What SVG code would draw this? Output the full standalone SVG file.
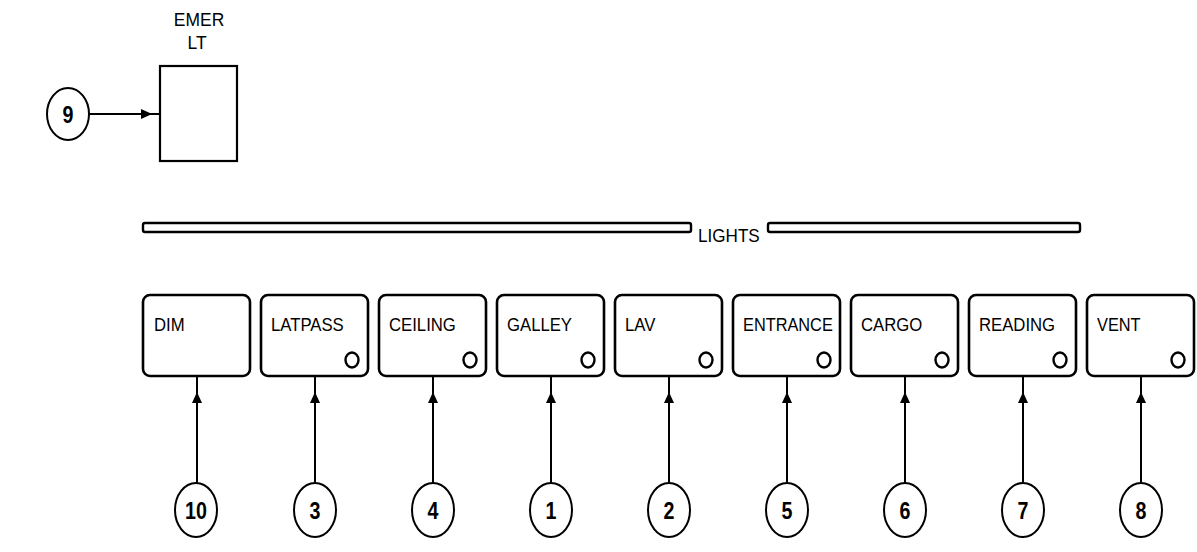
<svg xmlns="http://www.w3.org/2000/svg" width="1197" height="552" viewBox="0 0 1197 552">
<style>
  .box{fill:#fff;stroke:#000;stroke-width:2.6}
  .lbl{font-family:"Liberation Sans",Arial,sans-serif;font-size:19px;fill:#000}
  .num{font-family:"Liberation Sans",Arial,sans-serif;font-size:24px;font-weight:bold;fill:#000;text-anchor:middle}
  .ring{fill:#fff;stroke:#000;stroke-width:2}
  .ind{fill:none;stroke:#000;stroke-width:2.4}
  .wire{fill:none;stroke:#000;stroke-width:2}
  .bar{fill:#fff;stroke:#000;stroke-width:2.4}
</style>
<defs>
  <marker id="ah" markerUnits="userSpaceOnUse" markerWidth="12" markerHeight="10" refX="11" refY="5" orient="auto">
    <path d="M0,0 L11,5 L0,10 z" fill="#000"/>
  </marker>
</defs>
<rect width="1197" height="552" fill="#fff"/>

<g id="connectors">
  <path class="wire" d="M89,114 L152,114 L160,114" marker-mid="url(#ah)"/>
  <path class="wire" d="M197,483 L197,392 L197,376" marker-mid="url(#ah)"/>
  <path class="wire" d="M315,483 L315,392 L315,376" marker-mid="url(#ah)"/>
  <path class="wire" d="M433,483 L433,392 L433,376" marker-mid="url(#ah)"/>
  <path class="wire" d="M551,483 L551,392 L551,376" marker-mid="url(#ah)"/>
  <path class="wire" d="M669,483 L669,392 L669,376" marker-mid="url(#ah)"/>
  <path class="wire" d="M787,483 L787,392 L787,376" marker-mid="url(#ah)"/>
  <path class="wire" d="M905,483 L905,392 L905,376" marker-mid="url(#ah)"/>
  <path class="wire" d="M1023,483 L1023,392 L1023,376" marker-mid="url(#ah)"/>
  <path class="wire" d="M1141,483 L1141,392 L1141,376" marker-mid="url(#ah)"/>
</g>

<g id="emer-lt">
  <rect x="160" y="66" width="77" height="95" fill="#fff" stroke="#000" stroke-width="2.2"/>
  <text class="lbl" transform="translate(199,26) scale(0.92,1)" text-anchor="middle" font-size="18">EMER</text>
  <text class="lbl" transform="translate(197,49) scale(0.92,1)" text-anchor="middle" font-size="15">LT</text>
</g>

<g id="lights-bar">
  <rect class="bar" x="143" y="223" width="548" height="9" rx="2"/>
  <text class="lbl" transform="translate(698,242) scale(0.9,1)" font-size="19">LIGHTS</text>
  <rect class="bar" x="768" y="223" width="312" height="9" rx="2"/>
</g>

<g id="sw-dim">
  <rect class="box" x="143" y="295" width="107" height="81" rx="7"/>
  <text class="lbl" transform="translate(154,331) scale(0.88,1)">DIM</text>
</g>
<g id="sw-latpass">
  <rect class="box" x="261" y="295" width="107" height="81" rx="7"/>
  <text class="lbl" transform="translate(271,331) scale(0.88,1)">LATPASS</text>
  <ellipse class="ind" cx="352" cy="360" rx="6.5" ry="7.5"/>
</g>
<g id="sw-ceiling">
  <rect class="box" x="379" y="295" width="107" height="81" rx="7"/>
  <text class="lbl" transform="translate(389,331) scale(0.88,1)">CEILING</text>
  <ellipse class="ind" cx="470" cy="360" rx="6.5" ry="7.5"/>
</g>
<g id="sw-galley">
  <rect class="box" x="497" y="295" width="107" height="81" rx="7"/>
  <text class="lbl" transform="translate(507,331) scale(0.88,1)">GALLEY</text>
  <ellipse class="ind" cx="588" cy="360" rx="6.5" ry="7.5"/>
</g>
<g id="sw-lav">
  <rect class="box" x="615" y="295" width="107" height="81" rx="7"/>
  <text class="lbl" transform="translate(625,331) scale(0.88,1)">LAV</text>
  <ellipse class="ind" cx="706" cy="360" rx="6.5" ry="7.5"/>
</g>
<g id="sw-entrance">
  <rect class="box" x="733" y="295" width="107" height="81" rx="7"/>
  <text class="lbl" transform="translate(743,331) scale(0.86,1)">ENTRANCE</text>
  <ellipse class="ind" cx="824" cy="360" rx="6.5" ry="7.5"/>
</g>
<g id="sw-cargo">
  <rect class="box" x="851" y="295" width="107" height="81" rx="7"/>
  <text class="lbl" transform="translate(861,331) scale(0.88,1)">CARGO</text>
  <ellipse class="ind" cx="942" cy="360" rx="6.5" ry="7.5"/>
</g>
<g id="sw-reading">
  <rect class="box" x="969" y="295" width="107" height="81" rx="7"/>
  <text class="lbl" transform="translate(979,331) scale(0.88,1)">READING</text>
  <ellipse class="ind" cx="1060" cy="360" rx="6.5" ry="7.5"/>
</g>
<g id="sw-vent">
  <rect class="box" x="1087" y="295" width="107" height="81" rx="7"/>
  <text class="lbl" transform="translate(1097,331) scale(0.86,1)">VENT</text>
  <ellipse class="ind" cx="1178" cy="360" rx="6.5" ry="7.5"/>
</g>

<g id="c9"><ellipse class="ring" cx="68" cy="114" rx="21" ry="26"/><text class="num" transform="translate(68,123) scale(0.82,1)">9</text></g>
<g id="c10"><ellipse class="ring" cx="196" cy="510" rx="21" ry="27"/><text class="num" transform="translate(196,519) scale(0.82,1)">10</text></g>
<g id="c3"><ellipse class="ring" cx="315" cy="510" rx="21" ry="27"/><text class="num" transform="translate(315,519) scale(0.82,1)">3</text></g>
<g id="c4"><ellipse class="ring" cx="433" cy="510" rx="21" ry="27"/><text class="num" transform="translate(433,519) scale(0.82,1)">4</text></g>
<g id="c1"><ellipse class="ring" cx="551" cy="510" rx="21" ry="27"/><text class="num" transform="translate(551,519) scale(0.82,1)">1</text></g>
<g id="c2"><ellipse class="ring" cx="669" cy="510" rx="21" ry="27"/><text class="num" transform="translate(669,519) scale(0.82,1)">2</text></g>
<g id="c5"><ellipse class="ring" cx="787" cy="510" rx="21" ry="27"/><text class="num" transform="translate(787,519) scale(0.82,1)">5</text></g>
<g id="c6"><ellipse class="ring" cx="905" cy="510" rx="21" ry="27"/><text class="num" transform="translate(905,519) scale(0.82,1)">6</text></g>
<g id="c7"><ellipse class="ring" cx="1023" cy="510" rx="21" ry="27"/><text class="num" transform="translate(1023,519) scale(0.82,1)">7</text></g>
<g id="c8"><ellipse class="ring" cx="1141" cy="510" rx="21" ry="27"/><text class="num" transform="translate(1141,519) scale(0.82,1)">8</text></g>
</svg>
